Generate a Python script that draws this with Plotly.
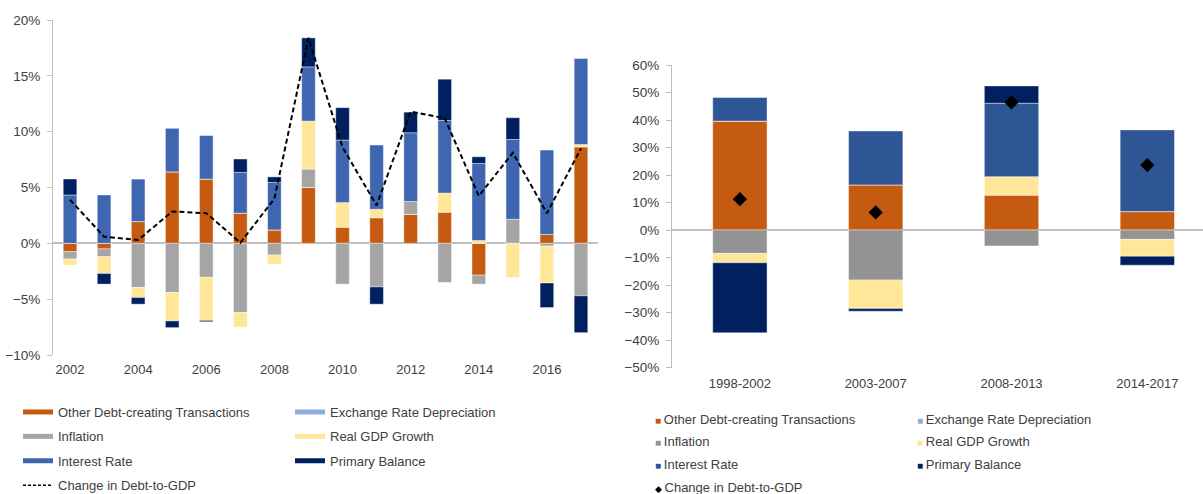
import plotly.graph_objects as go

# ---------------- data: left chart (annual, % of GDP) ----------------
years = [2002, 2003, 2004, 2005, 2006, 2007, 2008, 2009,
         2010, 2011, 2012, 2013, 2014, 2015, 2016, 2017]
other_l    = [-0.75, -0.5, 1.95, 6.4, 5.75, 2.7, 1.2, 5.0, 1.45, 2.3, 2.6, 2.8, -2.85, 0.0, 0.8, 8.65]
exch_l     = [0.0] * 16
infl_l     = [-0.65, -0.7, -3.95, -4.4, -3.05, -6.2, -1.05, 1.65, -3.65, -3.9, 1.15, -3.5, -0.8, 2.15, -0.25, -4.7]
rgdp_l     = [-0.55, -1.5, -0.9, -2.55, -3.85, -1.3, -0.8, 4.3, 2.2, 0.75, 0.0, 1.7, 0.25, -3.05, -3.3, 0.2]
interest_l = [4.33, 4.33, 3.8, 3.9, 3.9, 3.65, 4.25, 4.85, 5.6, 5.75, 6.15, 6.5, 6.9, 7.15, 7.55, 7.7]
primary_l  = [1.43, -0.95, -0.6, -0.6, -0.12, 1.2, 0.5, 2.6, 2.9, -1.55, 1.85, 3.7, 0.6, 1.95, -2.2, -3.3]
change_l   = [3.9, 0.6, 0.3, 2.85, 2.7, 0.05, 4.0, 18.4, 8.6, 3.4, 11.8, 11.2, 4.25, 8.1, 2.7, 8.5]

# ---------------- data: right chart (cumulative over periods) ----------------
periods = ["1998-2002", "2003-2007", "2008-2013", "2014-2017"]
other_r    = [39.6, 16.4, 12.7, 6.7]
exch_r     = [0.0, 0.0, 0.0, 0.0]
infl_r     = [-8.5, -18.2, -5.8, -3.4]
rgdp_r     = [-3.4, -10.3, 6.7, -6.1]
interest_r = [8.6, 19.6, 26.7, 29.7]
primary_r  = [-25.5, -1.0, 6.3, -3.3]
change_r   = [11.2, 6.4, 46.4, 23.6]

names = ["Other Debt-creating Transactions", "Exchange Rate Depreciation", "Inflation",
         "Real GDP Growth", "Interest Rate", "Primary Balance"]
change_name = "Change in Debt-to-GDP"
colors_l = ["#C55A11", "#8FAADC", "#A5A5A5", "#FFE699", "#3F66B1", "#002060"]
colors_r = ["#C55A11", "#8FAADC", "#939393", "#FFE699", "#2E5594", "#002060"]
left_series = [other_l, exch_l, infl_l, rgdp_l, interest_l, primary_l]
right_series = [other_r, exch_r, infl_r, rgdp_r, interest_r, primary_r]

TXT = "#404040"
AX = "#BFBFBF"
FONT = "Liberation Sans, Arial, sans-serif"

fig = go.Figure()

# bars
for name, vals, col in zip(names, left_series, colors_l):
    fig.add_trace(go.Bar(x=years, y=vals, name=name, marker_color=col,
                         marker_line=dict(color="rgba(255,255,255,0.7)", width=0.6),
                         width=0.4, showlegend=False, xaxis="x", yaxis="y"))
fig.add_trace(go.Scatter(x=years, y=change_l, mode="lines", name=change_name,
                         line=dict(color="black", width=2, dash="5px,3px"),
                         showlegend=False, xaxis="x", yaxis="y"))

for name, vals, col in zip(names, right_series, colors_r):
    fig.add_trace(go.Bar(x=periods, y=vals, name=name, marker_color=col,
                         marker_line=dict(color="rgba(255,255,255,0.7)", width=0.6),
                         width=0.4, showlegend=False, xaxis="x2", yaxis="y2"))
fig.add_trace(go.Scatter(x=periods, y=change_r, mode="markers", name=change_name,
                         marker=dict(symbol="diamond", size=11, color="black"),
                         showlegend=False, xaxis="x2", yaxis="y2"))

# legend-only entries
col1 = [0, 2, 4]
for i, (name, col) in enumerate(zip(names, colors_l)):
    fig.add_trace(go.Scatter(x=[None], y=[None], mode="lines", name=name,
                             line=dict(color=col, width=5),
                             legend="legend" if i in col1 else "legend2",
                             legendgroup="L%d" % i, xaxis="x", yaxis="y"))
fig.add_trace(go.Scatter(x=[None], y=[None], mode="lines", name=change_name,
                         line=dict(color="black", width=1.5, dash="3px,2px"),
                         legend="legend", legendgroup="L6", xaxis="x", yaxis="y"))

# right legend: coloured glyph inside the label, sits right next to the text
hidden = dict(color="rgba(0,0,0,0)", size=1, line=dict(width=0, color="rgba(0,0,0,0)"))
for i, (name, col) in enumerate(zip(names, colors_r)):
    label = '<span style="color:%s;font-size:10px">■ </span>%s' % (col, name)
    fig.add_trace(go.Scatter(x=[None], y=[None], mode="markers", name=label,
                             marker=hidden,
                             legend="legend3" if i in col1 else "legend4",
                             legendgroup="R%d" % i, xaxis="x2", yaxis="y2"))
fig.add_trace(go.Scatter(x=[None], y=[None], mode="markers",
                         name='<span style="color:black;font-size:9px">◆ </span>' + change_name,
                         marker=hidden,
                         legend="legend3", legendgroup="R6", xaxis="x2", yaxis="y2"))

W, H = 1203, 494
def px(v): return v / W
def py(v): return 1 - v / H

leg_common = dict(orientation="v", traceorder="grouped", bgcolor="rgba(0,0,0,0)",
                  font=dict(family=FONT, size=13, color=TXT), xanchor="left", yanchor="top",
                  xref="container", yref="container",
                  itemclick=False, itemdoubleclick=False)

xfont = dict(family=FONT, size=13, color=TXT)
yfont = dict(family=FONT, size=13.5, color=TXT)

fig.update_layout(
    width=W, height=H, margin=dict(l=0, r=0, t=0, b=0, autoexpand=False),
    paper_bgcolor="white", plot_bgcolor="white",
    barmode="relative", bargap=0.6,
    font=dict(family=FONT, size=13, color=TXT),
    xaxis=dict(domain=[px(53), px(598)], range=[2001.5, 2017.5], tick0=2002, dtick=2,
               showline=False, showgrid=False, zeroline=False, ticks="", automargin=False,
               ticklabelstandoff=5, tickfont=xfont, anchor="y"),
    yaxis=dict(domain=[py(355), py(20)], range=[-10, 20], dtick=5, ticksuffix="%",
               showline=True, linecolor=AX, linewidth=1, ticks="outside", ticklen=5,
               tickcolor=AX, showgrid=False, zeroline=True, zerolinecolor=AX, zerolinewidth=1.5,
               ticklabelstandoff=4, automargin=False, tickfont=yfont, anchor="x"),
    xaxis2=dict(domain=[px(672), 1.0], range=[-0.5, 3.41], type="category",
                showline=False, showgrid=False, zeroline=False, ticks="", automargin=False,
                ticklabelstandoff=6, tickfont=xfont, anchor="y2"),
    yaxis2=dict(domain=[py(367.5), py(65)], range=[-50, 60], dtick=10, ticksuffix="%",
                showline=True, linecolor=AX, linewidth=1, ticks="outside", ticklen=5,
                tickcolor=AX, showgrid=False, zeroline=True, zerolinecolor=AX, zerolinewidth=1.5,
                ticklabelstandoff=4, automargin=False, tickfont=yfont, anchor="x2"),
    legend=dict(leg_common, x=px(18), y=py(397), tracegroupgap=4.5),
    legend2=dict(leg_common, x=px(290), y=py(397), tracegroupgap=4.5),
    legend3=dict(leg_common, x=px(615), y=py(403.5), tracegroupgap=2.8),
    legend4=dict(leg_common, x=px(877), y=py(403.5), tracegroupgap=2.8),
)

fig.write_html("out.html", config={"displayModeBar": False},
               post_script="document.body.style.margin='0';document.body.style.overflow='hidden';")
